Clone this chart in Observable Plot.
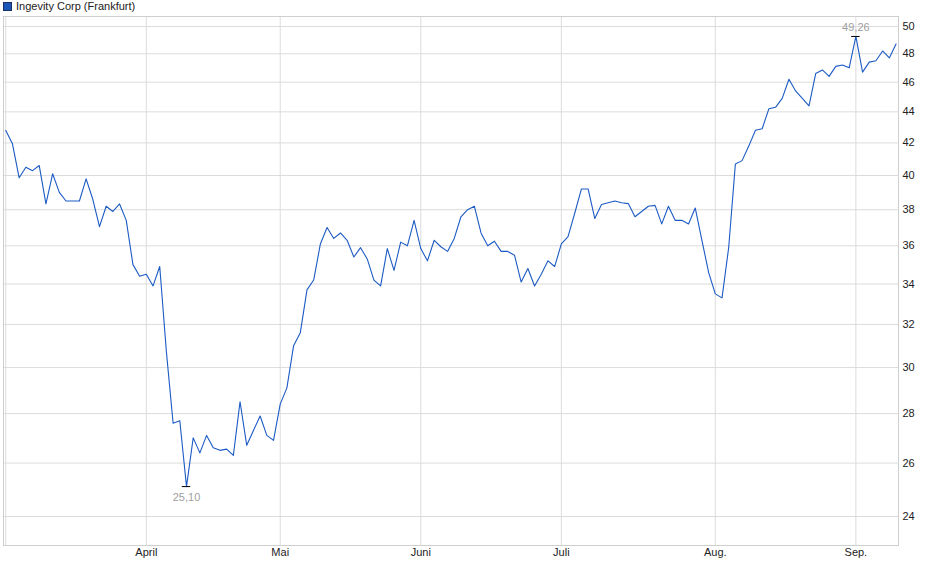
<!DOCTYPE html>
<html>
<head>
<meta charset="utf-8">
<script src="https://cdn.jsdelivr.net/npm/d3@7"></script>
<script src="https://cdn.jsdelivr.net/npm/@observablehq/plot@0.6"></script>
<style>
  body { margin: 0; background: #fff; font-family: "Liberation Sans", Arial, sans-serif; }
  #wrap { position: relative; width: 940px; height: 579px; }
  #legend { position: absolute; left: 3px; top: 0px; font-size: 11px; color: #222; line-height: 13px; white-space: nowrap; }
  #legend .sw { display: inline-block; width: 7px; height: 7px; background: #1c55b8; border: 1px solid #1a2f66; vertical-align: -1px; margin-right: 4px; }
  #chart { position: absolute; left: 0; top: 0; }
</style>
</head>
<body>
<div id="wrap">
  <div id="chart"></div>
  <div id="legend"><span class="sw"></span>Ingevity Corp (Frankfurt)</div>
</div>
<script>
// Daily closing prices (EUR), trading days from early March to early September
const closes = [
  42.79, 41.94, 39.86, 40.5, 40.29, 40.6, 38.33, 40.1, 39.0, 38.5,
  38.5, 38.5, 39.8, 38.6, 37.05, 38.2, 37.9, 38.33, 37.4, 35.0,
  34.4, 34.5, 33.9, 34.9, 30.7, 27.6, 27.7, 25.1, 27.0, 26.4,
  27.1, 26.6, 26.5, 26.55, 26.3, 28.5, 26.7, 27.3, 27.9, 27.1,
  26.9, 28.4, 29.1, 31.0, 31.6, 33.7, 34.2, 36.1, 37.0, 36.4,
  36.7, 36.3, 35.4, 35.9, 35.3, 34.2, 33.9, 35.85, 34.7, 36.2,
  36.0, 37.4, 35.85, 35.2, 36.3, 35.95, 35.7, 36.4, 37.6, 38.0,
  38.2, 36.7, 36.0, 36.25, 35.7, 35.7, 35.5, 34.1, 34.8, 33.9,
  34.5, 35.2, 34.9, 36.1, 36.5, 37.8, 39.2, 39.2, 37.5, 38.3,
  38.4, 38.5, 38.4, 38.35, 37.6, 37.9, 38.2, 38.25, 37.2, 38.2,
  37.4, 37.4, 37.2, 38.1, 36.3, 34.6, 33.5, 33.3, 35.9, 40.7,
  40.9, 41.8, 42.8, 42.9, 44.2, 44.3, 44.9, 46.2, 45.4, 44.9,
  44.4, 46.6, 46.85, 46.4, 47.1, 47.2, 47.0, 49.26, 46.7, 47.4,
  47.5, 48.2, 47.7, 48.7
];
// Index of the first trading day of each month (month gridlines)
const monthStartIdx = [0, 21, 41, 62, 83, 106, 127];
const monthLabels = ["", "April", "Mai", "Juni", "Juli", "Aug.", "Sep."];
const yTicks = [24, 26, 28, 30, 32, 34, 36, 38, 40, 42, 44, 46, 48, 50];

const data = closes.map((v, i) => ({i, v}));
const minI = d3.minIndex(closes), maxI = d3.maxIndex(closes);
const fmt = v => d3.format(".2f")(v).replace(".", ",");
const grid = "#dcdcdc";

const chart = Plot.plot({
  width: 940,
  height: 579,
  marginTop: 16,
  marginBottom: 34,
  marginLeft: 3,
  marginRight: 42,
  x: {domain: [-0.34, 133.37], axis: null, label: null},
  y: {type: "log", domain: [22.98, 50.755], axis: null, label: null},
  style: {fontFamily: "'Liberation Sans', Arial, sans-serif", fontSize: "11px", background: "white", color: "#222"},
  marks: [
    Plot.ruleY(yTicks, {stroke: grid, strokeWidth: 1}),
    Plot.ruleX(monthStartIdx, {stroke: grid, strokeWidth: 1}),
    Plot.frame({stroke: "#cfcfcf"}),
    Plot.axisY(yTicks, {anchor: "right", label: null, tickSize: 0, tickPadding: 4, tickFormat: d => String(d), fill: "#222"}),
    Plot.axisX(monthStartIdx.slice(1), {anchor: "bottom", label: null, tickSize: 0, tickPadding: 3,
      tickFormat: d => monthLabels[monthStartIdx.indexOf(d)], fill: "#222"}),
    Plot.line(data, {x: "i", y: "v", stroke: "#1c5bc4", strokeWidth: 1.1}),
    Plot.ruleY([closes[minI]], {x1: minI - 0.63, x2: minI + 0.63, stroke: "#000", strokeWidth: 1}),
    Plot.ruleY([closes[maxI]], {x1: maxI - 0.63, x2: maxI + 0.63, stroke: "#000", strokeWidth: 1}),
    Plot.text([{i: minI, v: closes[minI]}], {x: "i", y: "v", text: d => fmt(d.v), dy: 11, fill: "#a0a0a0", fontSize: 11}),
    Plot.text([{i: maxI, v: closes[maxI]}], {x: "i", y: "v", text: d => fmt(d.v), dy: -9, fill: "#a0a0a0", fontSize: 11})
  ]
});
document.getElementById("chart").appendChild(chart);
</script>
</body>
</html>
